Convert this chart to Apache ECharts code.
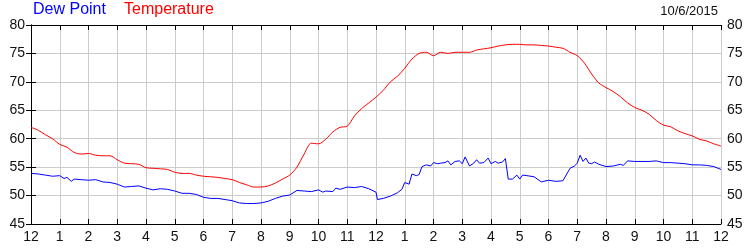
<!DOCTYPE html>
<html><head><meta charset="utf-8">
<script src="https://cdn.jsdelivr.net/npm/echarts@6/dist/echarts.min.js"></script>
<style>html,body{margin:0;padding:0;background:#fff}#c{width:750px;height:250px}</style>
</head><body><div id="c"></div>
<script>
// Temperature, every 15 minutes from 12 AM to 12 AM
const tempValues = [
62.0,61.5,60.7,60.0,59.0,58.5,57.6,57.3,57.4,57.1,57.0,57.0,56.3,55.7,55.6,55.5,
54.9,54.8,54.7,54.6,54.1,53.9,53.9,53.6,53.4,53.3,53.2,53.0,52.8,52.3,51.9,51.5,
51.5,51.7,52.2,52.9,53.6,55.0,57.3,59.2,59.1,59.9,61.2,62.0,62.2,64.0,65.3,66.3,
67.3,68.5,70.0,71.0,72.4,74.0,75.0,75.2,74.6,75.2,75.0,75.2,75.2,75.2,75.6,75.8,
76.0,76.3,76.5,76.6,76.6,76.5,76.5,76.4,76.3,76.1,75.9,75.2,74.6,73.3,71.4,69.8,
69.0,68.3,67.4,66.3,65.5,65.0,64.3,63.2,62.4,62.1,61.4,60.9,60.5,59.9,59.6,59.1,
58.7];
// Dew point, hours and values
const dewHours = [
0,0.25,0.5,0.75,1,1.15,1.25,1.4,1.5,1.75,2,2.25,2.5,2.75,3,3.25,3.5,3.75,4,4.25,4.5,4.75,
5,5.25,5.5,5.75,6,6.25,6.5,6.75,7,7.25,7.5,7.75,8,8.25,8.5,8.75,9,9.25,9.5,9.75,
10,10.15,10.25,10.5,10.6,10.75,11,11.25,11.5,11.75,12,12.05,12.25,12.5,12.75,12.9,13,13.15,13.25,13.4,13.5,13.6,
13.75,13.9,14,14.15,14.25,14.4,14.5,14.6,14.75,14.9,15,15.1,15.25,15.4,15.5,15.6,15.75,15.9,16,16.15,16.25,16.4,16.5,
16.6,16.75,16.9,17,17.1,17.25,17.5,17.75,18,18.25,18.5,18.75,18.9,19,19.1,19.2,19.3,19.4,19.5,19.6,19.75,
20,20.25,20.5,20.6,20.75,21,21.25,21.5,21.75,22,22.25,22.5,22.75,23,23.25,23.5,23.75,24];
const dewValues = [
53.9,53.8,53.6,53.4,53.5,53.0,53.2,52.5,52.9,52.8,52.7,52.8,52.4,52.3,52.0,51.5,51.6,51.7,51.3,51.0,51.2,51.1,
50.8,50.4,50.4,50.2,49.7,49.5,49.5,49.3,49.1,48.7,48.6,48.6,48.7,49.0,49.5,49.9,50.1,50.9,50.8,50.7,
51.0,50.6,50.8,50.7,51.3,51.1,51.5,51.4,51.6,51.2,50.6,49.3,49.5,49.9,50.5,51.1,52.3,52.0,53.8,53.5,53.7,55.1,
55.4,55.2,55.8,55.6,55.7,55.8,56.1,55.4,56.0,56.1,55.6,56.8,55.2,55.7,56.3,55.7,55.8,56.6,55.6,56.0,55.7,55.9,56.5,
52.9,52.9,53.6,52.9,53.6,53.5,53.3,52.4,52.7,52.5,52.6,54.8,55.2,55.7,57.1,56.0,56.6,55.7,55.6,55.9,55.5,
55.1,55.2,55.5,55.3,56.1,56.0,56.0,56.0,56.1,55.8,55.8,55.7,55.6,55.4,55.4,55.3,55.1,54.6];
const yTicks = [45,50,55,60,65,70,75,80];
const hourLabels = ['12','1','2','3','4','5','6','7','8','9','10','11','12','1','2','3','4','5','6','7','8','9','10','11','12'];

const tempData = tempValues.map((v,i)=>[i*0.25, v]);
const dewData = dewValues.map((v,i)=>[dewHours[i], v]);

const txt = '#111';
const fontF = 'Liberation Sans, Arial, sans-serif';
const chart = echarts.init(document.getElementById('c'), null, {renderer:'canvas'});
const xBase = {
  type:'value', min:0, max:24, interval:1,
  axisLine:{show:true, lineStyle:{color:'#000', width:1}},
  axisTick:{show:true, inside:true, length:5, lineStyle:{color:'#000'}},
  splitLine:{show:false}
};
const yBase = {
  type:'value', min:45, max:80, interval:5,
  axisLine:{show:true, lineStyle:{color:'#000', width:1}},
  axisTick:{show:true, inside:true, length:5, lineStyle:{color:'#000'}},
  axisLabel:{color:txt, fontSize:14, fontFamily:fontF, margin:6},
  splitLine:{show:false}
};
chart.setOption({
  animation:false,
  backgroundColor:'#fff',
  grid:{left:31, right:29, top:25, bottom:26, containLabel:false},
  xAxis:[
    Object.assign({}, xBase, {position:'bottom',
      axisLabel:{color:txt, fontSize:14, fontFamily:fontF, margin:6,
        formatter:(v)=>hourLabels[Math.round(v)]},
      splitLine:{show:true, lineStyle:{color:'#cccccc', width:1}}}),
    Object.assign({}, xBase, {position:'top', axisLabel:{show:false}})
  ],
  yAxis:[
    Object.assign({}, yBase, {position:'left',
      splitLine:{show:true, lineStyle:{color:'#cccccc', width:1}}}),
    Object.assign({}, yBase, {position:'right'})
  ],
  graphic:[
    {type:'text', left:33, top:2, style:{text:'Dew Point', fill:'#0000ff', font:'16px '+fontF}},
    {type:'text', left:124, top:2, style:{text:'Temperature', fill:'#ff0000', font:'16px '+fontF}},
    {type:'text', right:32, top:5, style:{text:'10/6/2015', fill:txt, font:'13px '+fontF}}
  ],
  series:[
    {name:'Temperature', type:'line', data:tempData, showSymbol:false, smooth:0.3,
     lineStyle:{color:'#ff0000', width:1}, itemStyle:{color:'#ff0000'}, z:3},
    {name:'Dew Point', type:'line', data:dewData, showSymbol:false,
     lineStyle:{color:'#0000ff', width:1}, itemStyle:{color:'#0000ff'}, z:4}
  ]
});
</script></body></html>
